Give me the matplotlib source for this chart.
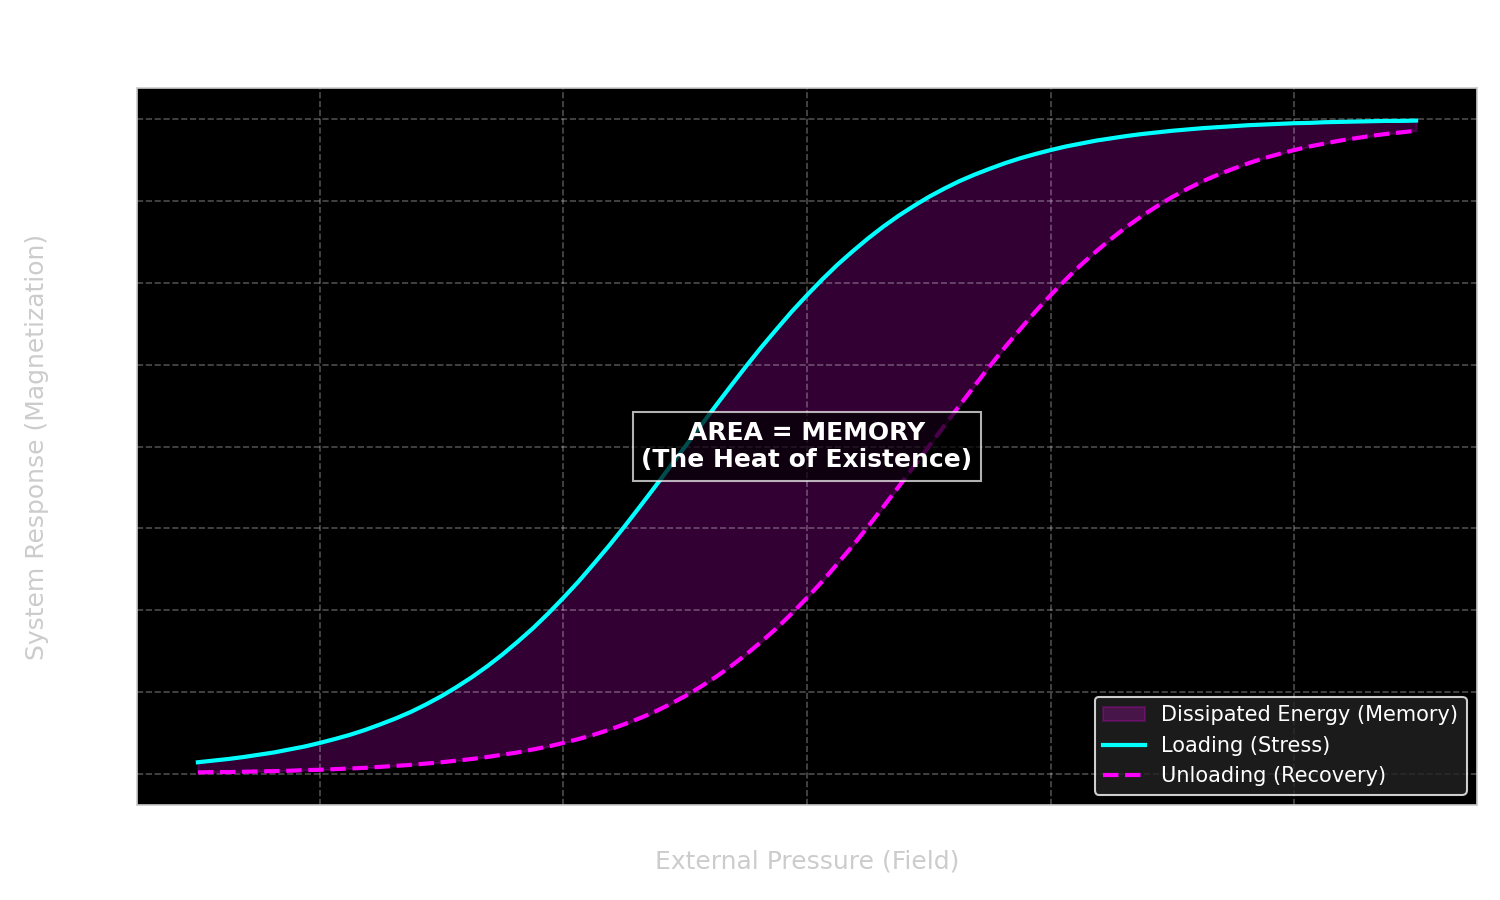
#!/usr/bin/env python3

import matplotlib

matplotlib.use("Agg")
import matplotlib.pyplot as plt

# field values (x) and the two branches
field = [
    -5.0, -4.875, -4.75, -4.625, -4.5, -4.375, -4.25, -4.125,
    -4.0, -3.875, -3.75, -3.625, -3.5, -3.375, -3.25, -3.125,
    -3.0, -2.875, -2.75, -2.625, -2.5, -2.375, -2.25, -2.125,
    -2.0, -1.875, -1.75, -1.625, -1.5, -1.375, -1.25, -1.125,
    -1.0, -0.875, -0.75, -0.625, -0.5, -0.375, -0.25, -0.125,
    0.0, 0.125, 0.25, 0.375, 0.5, 0.625, 0.75, 0.875,
    1.0, 1.125, 1.25, 1.375, 1.5, 1.625, 1.75, 1.875,
    2.0, 2.125, 2.25, 2.375, 2.5, 2.625, 2.75, 2.875,
    3.0, 3.125, 3.25, 3.375, 3.5, 3.625, 3.75, 3.875,
    4.0, 4.125, 4.25, 4.375, 4.5, 4.625, 4.75, 4.875,
    5.0,
]
loading = [
    -0.964, -0.959, -0.954, -0.948, -0.941, -0.934, -0.925, -0.916,
    -0.905, -0.893, -0.880, -0.865, -0.848, -0.830, -0.810, -0.787,
    -0.762, -0.734, -0.704, -0.671, -0.635, -0.596, -0.555, -0.510,
    -0.462, -0.412, -0.358, -0.303, -0.245, -0.185, -0.124, -0.062,
    0.000, 0.062, 0.124, 0.185, 0.245, 0.303, 0.358, 0.412,
    0.462, 0.510, 0.555, 0.596, 0.635, 0.671, 0.704, 0.734,
    0.762, 0.787, 0.810, 0.830, 0.848, 0.865, 0.880, 0.893,
    0.905, 0.916, 0.925, 0.934, 0.941, 0.948, 0.954, 0.959,
    0.964, 0.968, 0.972, 0.975, 0.978, 0.981, 0.983, 0.985,
    0.987, 0.988, 0.990, 0.991, 0.992, 0.993, 0.994, 0.994,
    0.995,
]
unloading = [
    -0.995, -0.994, -0.994, -0.993, -0.992, -0.991, -0.990, -0.988,
    -0.987, -0.985, -0.983, -0.981, -0.978, -0.975, -0.972, -0.968,
    -0.964, -0.959, -0.954, -0.948, -0.941, -0.934, -0.925, -0.916,
    -0.905, -0.893, -0.880, -0.865, -0.848, -0.830, -0.810, -0.787,
    -0.762, -0.734, -0.704, -0.671, -0.635, -0.596, -0.555, -0.510,
    -0.462, -0.412, -0.358, -0.303, -0.245, -0.185, -0.124, -0.062,
    0.000, 0.062, 0.124, 0.185, 0.245, 0.303, 0.358, 0.412,
    0.462, 0.510, 0.555, 0.596, 0.635, 0.671, 0.704, 0.734,
    0.762, 0.787, 0.810, 0.830, 0.848, 0.865, 0.880, 0.893,
    0.905, 0.916, 0.925, 0.934, 0.941, 0.948, 0.954, 0.959,
    0.964,
]
x_ticks = [-4, -2, 0, 2, 4]
y_ticks = [-1.0, -0.75, -0.5, -0.25, 0.0, 0.25, 0.5, 0.75, 1.0]


def main() -> None:
    fig, ax = plt.subplots(figsize=(10, 6), dpi=150)
    fig.patch.set_facecolor("white")
    ax.set_facecolor("black")
    fig.subplots_adjust(left=137 / 1500, right=1477 / 1500, top=1 - 88 / 900, bottom=1 - 805 / 900)

    ax.fill_between(field, loading, unloading, color="magenta", alpha=0.2,
                    label="Dissipated Energy (Memory)")
    ax.plot(field, loading, color="cyan", linewidth=2, label="Loading (Stress)")
    ax.plot(field, unloading, color="magenta", linewidth=2, linestyle="--",
            label="Unloading (Recovery)")

    ax.text(0, 0, "AREA = MEMORY\n(The Heat of Existence)", color="white", fontsize=12,
            fontweight="bold", ha="center", va="center",
            bbox=dict(facecolor="black", edgecolor="white", alpha=0.7))

    ax.set_xticks(x_ticks)
    ax.set_yticks(y_ticks)
    ax.tick_params(length=0, labelbottom=False, labelleft=False)
    ax.grid(True, color="white", alpha=0.3, linestyle="--", linewidth=0.8)
    for spine in ax.spines.values():
        spine.set_color("#cccccc")
        spine.set_linewidth(0.8)

    ax.set_xlabel("External Pressure (Field)", color="#cccccc", fontsize=12, labelpad=21.5)
    ax.set_ylabel("System Response (Magnetization)", color="#cccccc", fontsize=12, labelpad=42)

    leg = ax.legend(loc="lower right", facecolor="#222222", edgecolor="white",
                    framealpha=0.8, fontsize=10)
    for text in leg.get_texts():
        text.set_color("white")

    fig.savefig("out.png", dpi=150, facecolor="white")


if __name__ == "__main__":
    main()
